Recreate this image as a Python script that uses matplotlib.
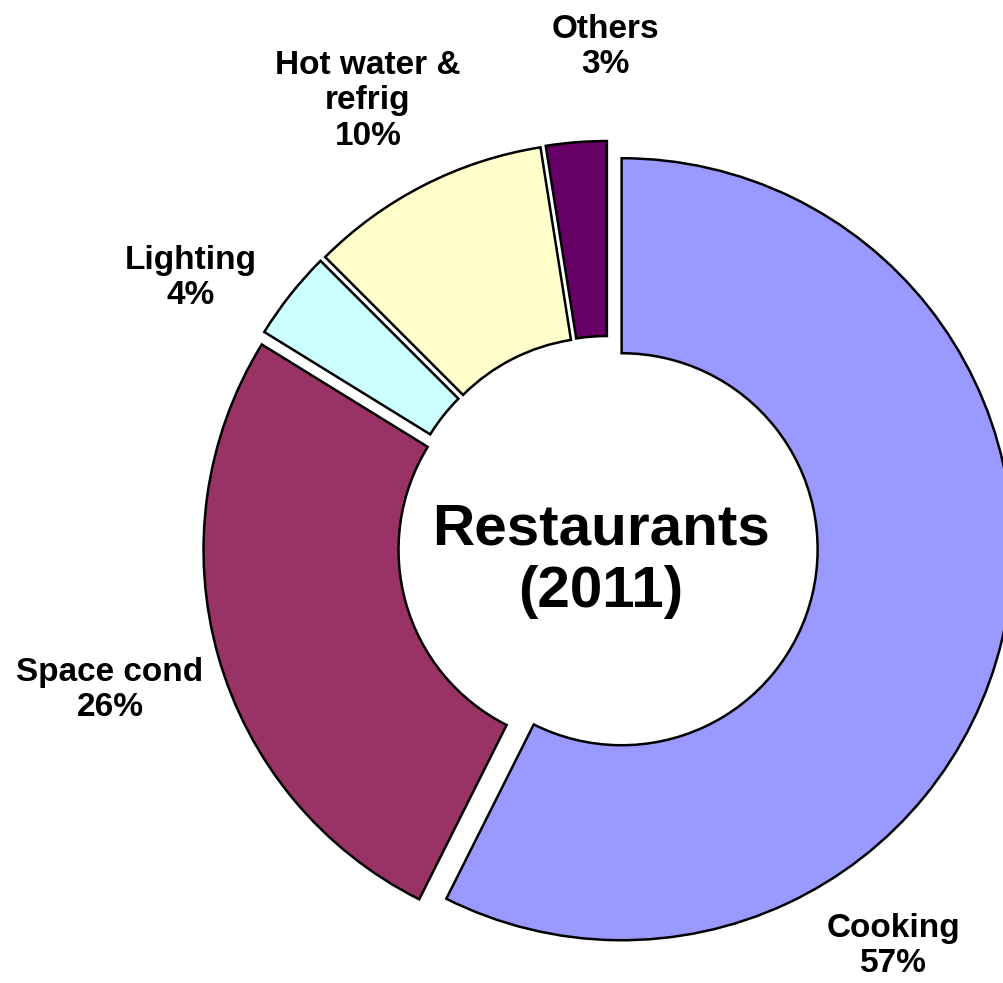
import matplotlib
matplotlib.use("Agg")
import matplotlib.pyplot as plt

plt.rcParams["font.family"] = ["Liberation Sans", "DejaVu Sans"]

categories = ["Cooking", "Space cond", "Lighting", "Hot water &\nrefrig", "Others"]
# slice sizes; printed labels are the rounded figures
shares = [57.4, 26.4, 3.7, 10.0, 2.5]
pct_labels = ["57%", "26%", "4%", "10%", "3%"]
colors = ["#9999FF", "#993366", "#CCFFFF", "#FFFFCC", "#660066"]

W, H = 1004, 983
fig = plt.figure(figsize=(W / 100, H / 100), dpi=100)
ax = fig.add_axes([0, 0, 1, 1])

# work in pixel units so the ring can run off the right edge like the original
cx, cy = 608, H - 546
R, ring = 391, 195
ax.pie(shares, colors=colors, startangle=90, counterclock=False,
       center=(cx, cy), radius=R, explode=[14] * len(shares),
       wedgeprops=dict(width=ring, edgecolor="black", linewidth=1.8))

ax.set_xlim(0, W)
ax.set_ylim(0, H)
ax.set_aspect("equal")
ax.axis("off")

# label spots (pixel coords, top-left origin)
label_pos = [(893, 946), (110, 690), (191, 278), (368, 101), (605, 47)]
for name, pct, (x, y) in zip(categories, pct_labels, label_pos):
    ax.text(x, H - y, f"{name}\n{pct}", ha="center", va="center",
            multialignment="center", fontsize=24, fontweight="bold",
            linespacing=1.2)

ax.text(cx - 7, H - 561, "Restaurants\n(2011)", ha="center", va="center",
        fontsize=42, fontweight="bold", linespacing=1.2)

fig.savefig("out.png", dpi=100)
